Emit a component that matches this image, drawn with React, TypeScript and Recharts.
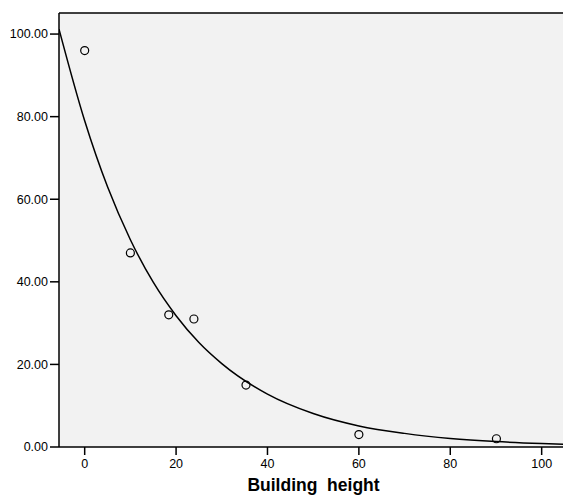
import React from "react"
import { ComposedChart, Line, Scatter, XAxis, YAxis, CartesianGrid, ReferenceLine } from "recharts"

// observed points (building height vs. value)
const obsX = [0, 10, 18.4, 23.9, 35.3, 60, 90.1]
const obsY = [96, 47, 32, 31, 15, 3, 2]

// fitted curve
const fitX = [-5.62, 0, 5, 10, 15, 20, 25, 30, 40, 50, 60, 70, 80, 90, 100, 106.2]
const fitY = [101.2, 79, 63, 50.2, 39.9, 31.8, 25.3, 20.2, 12.8, 8.1, 5.1, 3.3, 2.07, 1.31, 0.84, 0.63]

const xTicks = [0, 20, 40, 60, 80, 100]
const yTicks = [0, 20, 40, 60, 80, 100]
const yMax = 105.1

const points = obsX.map((x, i) => ({ x, y: obsY[i] }))
const curve = fitX.map((x, i) => ({ x, y: fitY[i] }))

const font = "'Liberation Sans', Arial, sans-serif"

const AxisTitle = (props: any) => {
  const { viewBox } = props
  const cx = viewBox.x + viewBox.width / 2 - 1
  return (
    <text x={cx} y={491} textAnchor="middle" fontFamily={font} fontWeight="bold" fontSize={17.5} fill="#000" style={{ whiteSpace: "pre" }}>
      {"Building  height"}
    </text>
  )
}

const Ring = (props: any) => <circle cx={props.cx} cy={props.cy} r={4} fill="none" stroke="#000" strokeWidth={1.2} />

export default function App() {
  return (
    <div style={{ position: "absolute", left: 0, top: 0, width: 563, height: 495, overflow: "hidden", background: "#fff" }}>
      <ComposedChart width={570} height={495} margin={{ top: 13, right: 0, left: 0, bottom: 0 }}>
        <CartesianGrid horizontal={false} vertical={false} fill="#f2f2f2" />
        <XAxis
          type="number"
          dataKey="x"
          domain={[-5.62, 106.2]}
          ticks={xTicks}
          allowDataOverflow
          height={48}
          tickSize={8}
          tickLine={{ stroke: "#000", strokeWidth: 1.5 }}
          axisLine={{ stroke: "#000", strokeWidth: 1.5 }}
          tick={{ fill: "#000", fontSize: 12.5, fontFamily: font, dy: 2 }}
          label={<AxisTitle />}
        />
        <YAxis
          type="number"
          dataKey="y"
          domain={[0, yMax]}
          ticks={yTicks}
          allowDataOverflow
          width={59}
          tickSize={9}
          tickLine={{ stroke: "#000", strokeWidth: 1.5 }}
          axisLine={{ stroke: "#000", strokeWidth: 1.5 }}
          tick={{ fill: "#000", fontSize: 12.5, fontFamily: font }}
          tickFormatter={(v: number) => v.toFixed(2)}
        />
        <ReferenceLine y={yMax} stroke="#000" strokeWidth={1.5} ifOverflow="visible" />
        <Line data={curve} dataKey="y" type="monotone" stroke="#000" strokeWidth={1.5} dot={false} isAnimationActive={false} />
        <Scatter data={points} dataKey="y" shape={<Ring />} isAnimationActive={false} />
      </ComposedChart>
    </div>
  )
}
